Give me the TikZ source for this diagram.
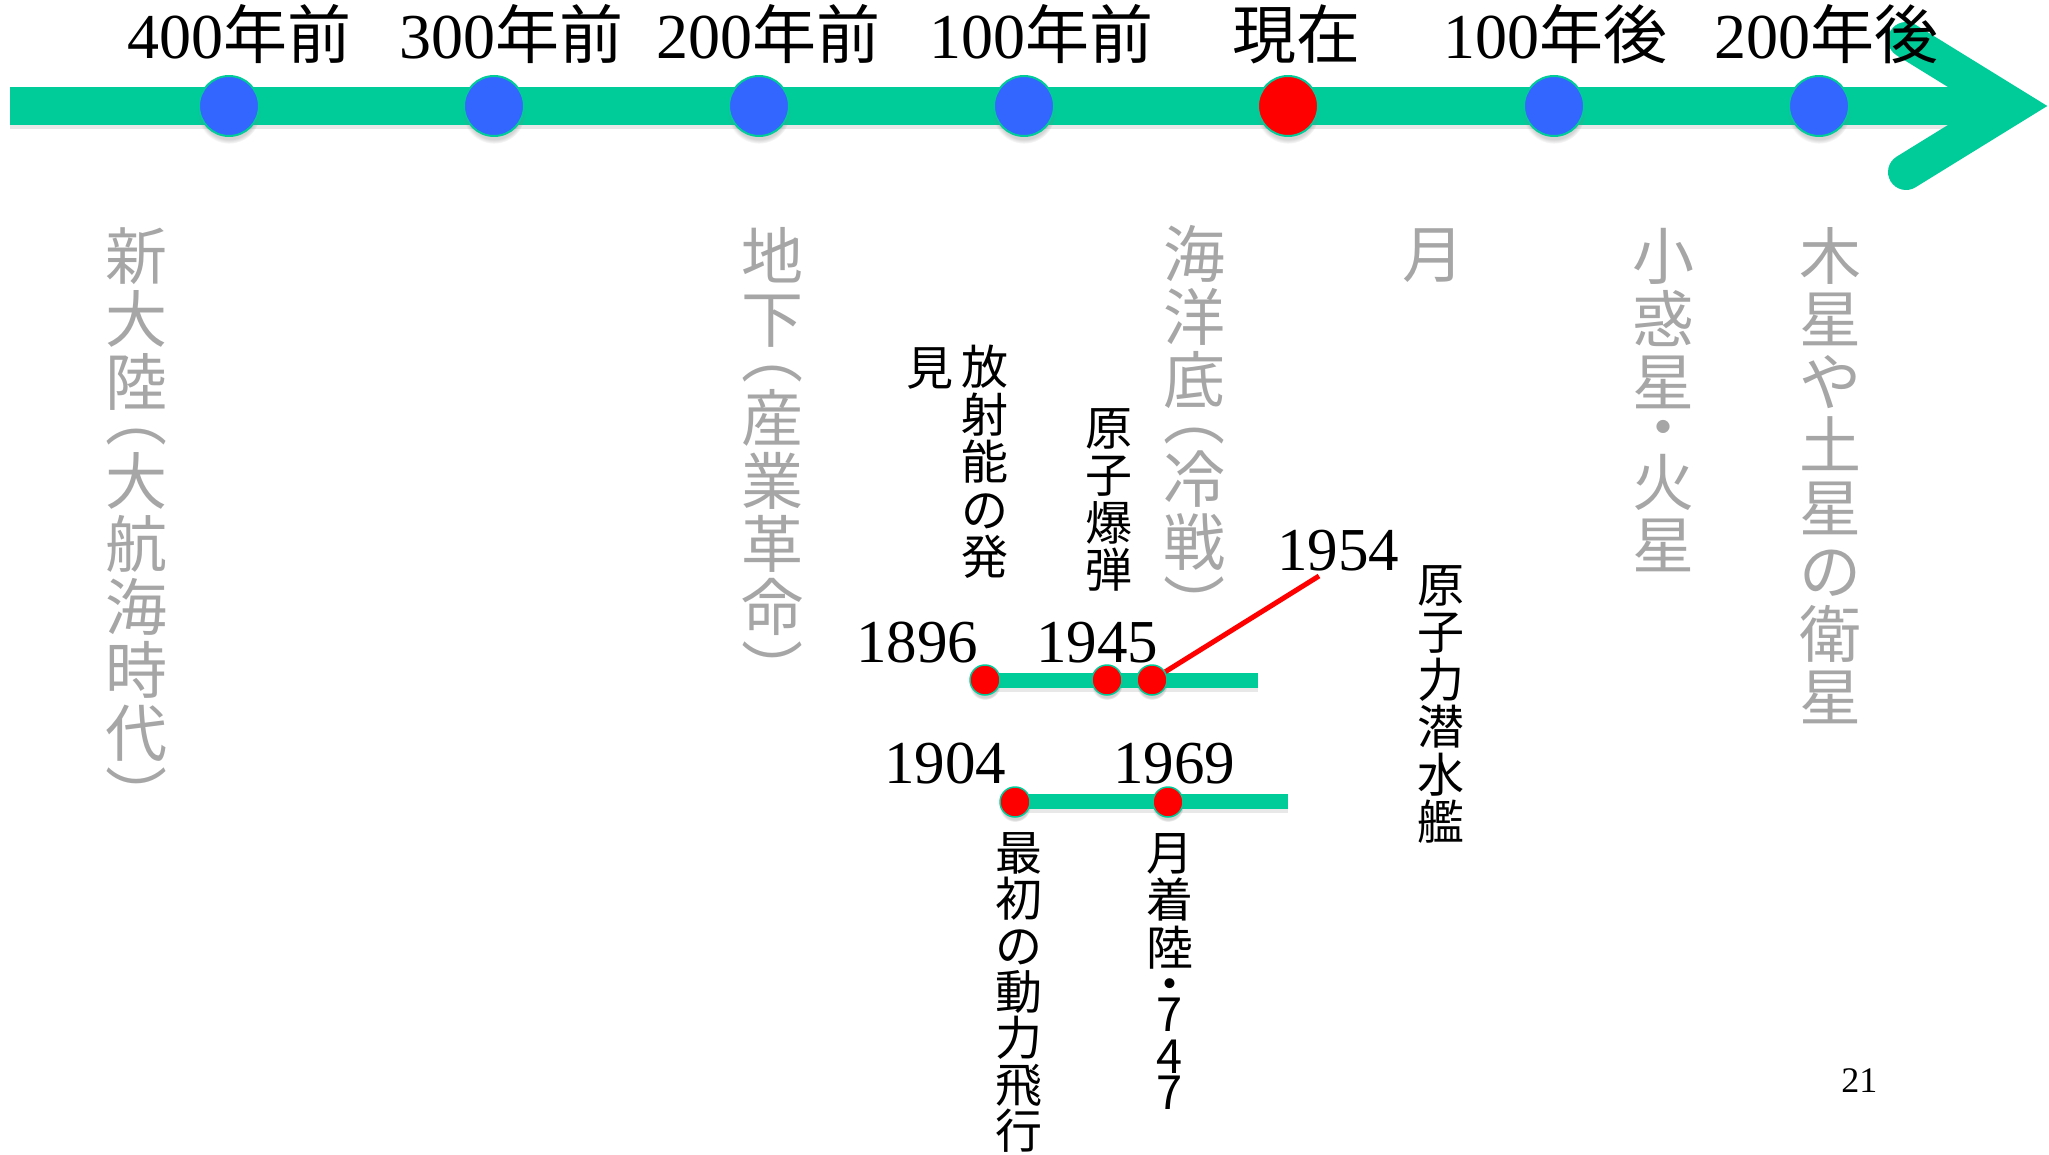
\documentclass[tikz,border=0pt]{standalone}
\usepackage{fontspec}
\setmainfont{Liberation Serif}
\newfontfamily\cjk{Noto Sans CJK JP}
\usetikzlibrary{shadows}
\definecolor{tlgreen}{HTML}{00CC99}
\definecolor{tlblue}{HTML}{3366FF}
\definecolor{tlred}{HTML}{FF0000}
\definecolor{tlgray}{HTML}{A6A6A6}
\setlength{\lineskiplimit}{-100pt}
\tikzset{
  barshadow/.style={drop shadow={shadow xshift=0pt,shadow yshift=-2pt,opacity=0.18}},
  bigdot/.style={circle,minimum size=30pt,inner sep=0pt,draw=tlgreen,line width=1pt,
    circular drop shadow={shadow scale=1.05,shadow xshift=0pt,shadow yshift=-3pt,opacity=0.35}},
  smalldot/.style={circle,minimum size=15pt,inner sep=0pt,draw=tlgreen,line width=0.75pt,fill=tlred,
    circular drop shadow={shadow scale=1.05,shadow xshift=0pt,shadow yshift=-2pt,opacity=0.35}},
  toplabel/.style={anchor=base,inner sep=0pt,font=\fontsize{32}{32}\selectfont},
  yearlabel/.style={anchor=base west,inner sep=0pt,font=\fontsize{30.5}{30.5}\selectfont},
  graycol/.style={anchor=north,inner sep=0pt,align=center,text=tlgray,
    font=\cjk\fontsize{31}{31.5}\selectfont},
  blackcol/.style={anchor=north,inner sep=0pt,align=center,text=black,
    font=\cjk\fontsize{23.5}{23.75}\selectfont},
}
\begin{document}
\begin{tikzpicture}[x=0.5pt,y=-0.5pt]
\useasboundingbox (0,0) rectangle (2049,1155);
% main timeline bar and arrow head
\coordinate (barL) at (10,87);
\coordinate (barR) at (1990,125);
\fill[tlgreen,barshadow] (barL) rectangle (barR);
\coordinate (armT) at (1906,40);
\coordinate (apex) at (2013,106);
\coordinate (armB) at (1906,172);
\draw[tlgreen,line width=18pt,line cap=round,line join=miter] (armT) -- (apex) -- (armB);
% main dots
\foreach \n/\x in {p400/229,p300/494,p200/759,p100/1024,f100/1554,f200/1819}
  \node[bigdot,fill=tlblue] (\n) at (\x,106) {};
\node[bigdot,fill=tlred] (now) at (1288,106) {};
% top labels
\node[toplabel] (l400) at (239,59) {400{\cjk 年前}};
\node[toplabel] (l300) at (511,59) {300{\cjk 年前}};
\node[toplabel] (l200) at (768,59) {200{\cjk 年前}};
\node[toplabel] (l100) at (1041,59) {100{\cjk 年前}};
\node[toplabel] (lnow) at (1296,59) {{\cjk 現在}};
\node[toplabel] (f100l) at (1555,59) {100{\cjk 年後}};
\node[toplabel] (f200l) at (1826,59) {200{\cjk 年後}};
% sub timelines
\coordinate (s1L) at (985,673);
\coordinate (s1R) at (1258,688);
\fill[tlgreen,barshadow] (s1L) rectangle (s1R);
\coordinate (s2L) at (1015,794);
\coordinate (s2R) at (1288,809);
\fill[tlgreen,barshadow] (s2L) rectangle (s2R);
\coordinate (e1954) at (1319,576);
\node[smalldot] (c1896) at (985,680) {};
\node[smalldot] (c1945) at (1107,680) {};
\node[smalldot] (c1954) at (1152,680) {};
\node[smalldot] (c1904) at (1015,802) {};
\node[smalldot] (c1969) at (1168,802) {};
\draw[tlred,line width=2.5pt] (c1954) -- (e1954);
% years
\node[yearlabel] (y1896) at (856,662) {1896};
\node[yearlabel] (y1945) at (1036,662) {1945};
\node[yearlabel] (y1954) at (1277,570) {1954};
\node[yearlabel] (y1904) at (884,783) {1904};
\node[yearlabel] (y1969) at (1113,783) {1969};
% gray vertical columns
\node[graycol] (g1) at (136,227) {新\\大\\陸\\[-13.75pt]︵\\[0.25pt]大\\航\\海\\時\\代\\[0pt]︶};
\node[graycol] (g2) at (772,227) {地\\下\\[-13.75pt]︵\\[0.25pt]産\\業\\革\\命\\[0pt]︶};
\node[graycol] (g3) at (1194,225) {海\\洋\\底\\[-13.75pt]︵\\[0.25pt]冷\\戦\\[0pt]︶};
\node[graycol] (g4) at (1433,228) {月};
\node[graycol] (g5) at (1663,228) {小\\惑\\星\\[-9pt]・\\[-4pt]火\\星};
\node[graycol] (g6) at (1830,227) {木\\星\\や\\土\\星\\の\\衛\\星};
% black vertical columns
\node[blackcol] (b1) at (985,345) {放\\射\\能\\の\\発};
\node[blackcol] (b2) at (930,347) {見};
\node[blackcol] (b3) at (1109,408) {原\\子\\爆\\弾};
\node[blackcol] (b4) at (1441,565) {原\\子\\力\\潜\\水\\艦};
\node[blackcol,font=\cjk\fontsize{23.5}{23.2}\selectfont] (b5) at (1019,832) {最\\初\\の\\動\\力\\飛\\行};
\node[blackcol] (b6) at (1170,833) {月\\着\\陸\\[-5.75pt]・\\[-8.75pt]7\\[-2.75pt]4\\[-5.75pt]7};
% page number
\node[anchor=base west,inner sep=0pt,font=\fontsize{18}{18}\selectfont] (pg) at (1841,1092) {21};
\end{tikzpicture}
\end{document}
